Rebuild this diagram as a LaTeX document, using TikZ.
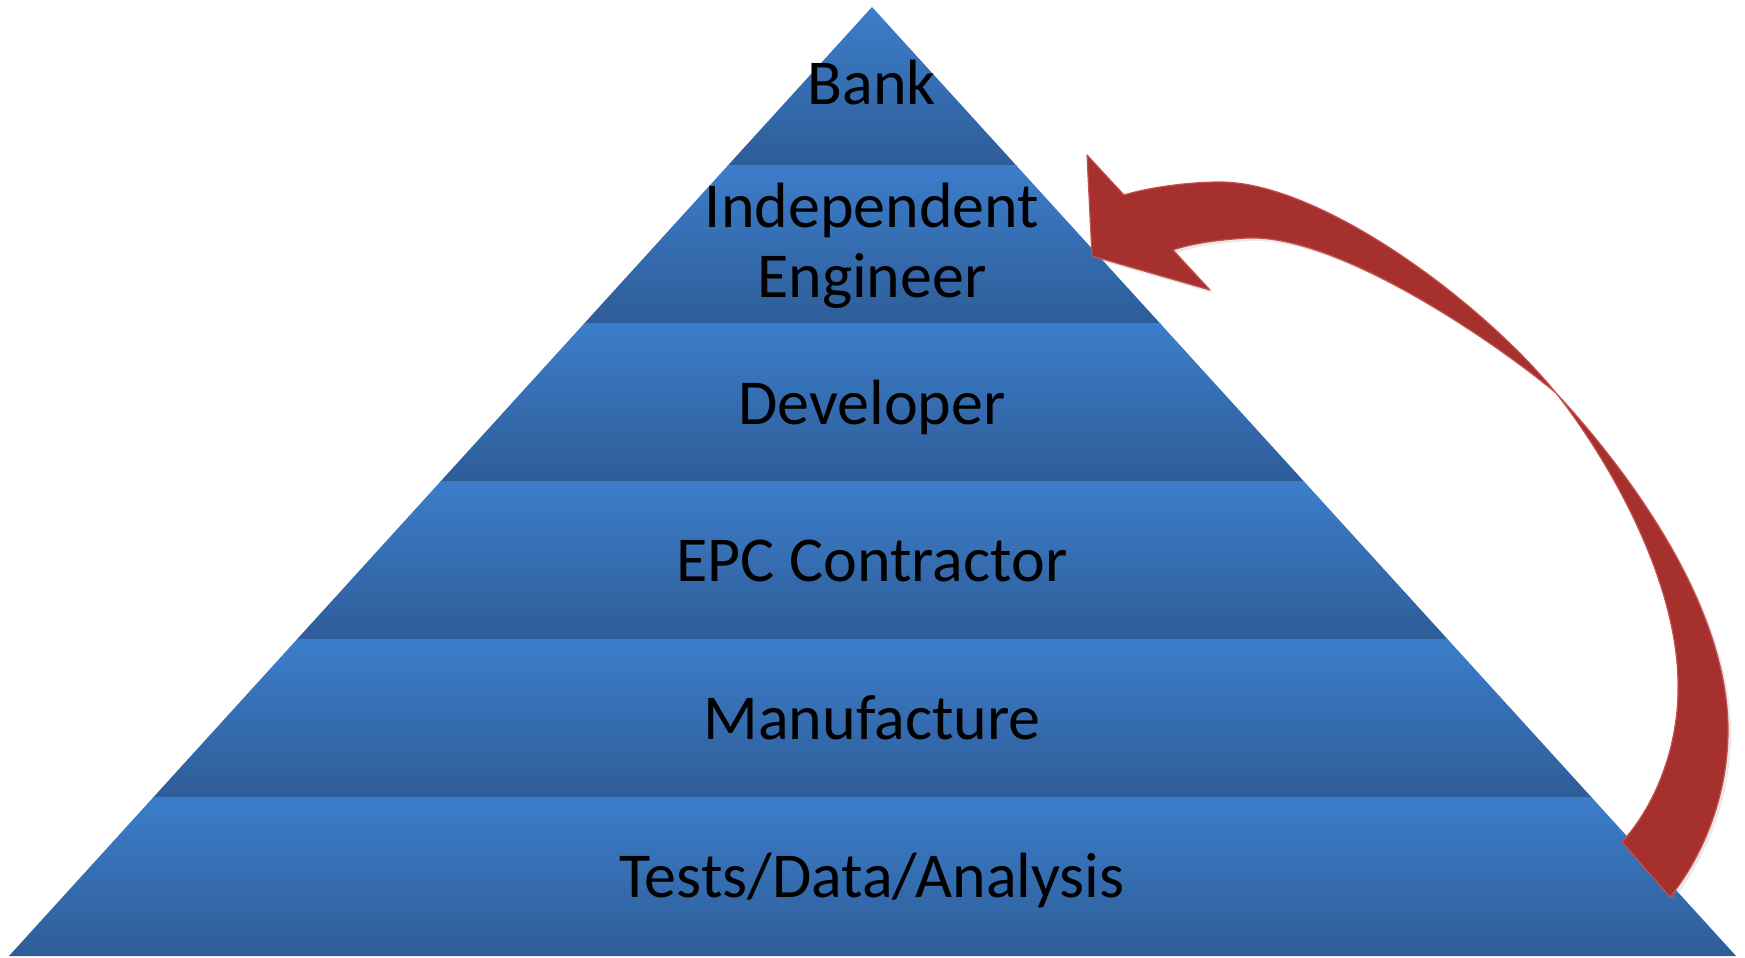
\documentclass[tikz,border=0pt]{standalone}
\usepackage{fontspec}
\setmainfont{Carlito}
\usetikzlibrary{shadows}
\definecolor{bandtop}{HTML}{3C7DCA}
\definecolor{bandbot}{HTML}{2E5D98}
\definecolor{arrowred}{HTML}{A5302E}
\definecolor{arrowedge}{HTML}{C4504D}
\tikzset{
  lbl/.style={font=\fontsize{32}{35}\selectfont, text=black, inner sep=0pt, align=center},
  bandshade/.style={top color=bandtop, bottom color=bandbot},
  redarrow/.style={fill=arrowred, draw=arrowedge, line width=0.6pt, line join=round,
    drop shadow={opacity=0.18, shadow xshift=1.5pt, shadow yshift=-1.5pt}}
}
\begin{document}
\begin{tikzpicture}[x=0.5pt,y=-0.5pt]
\useasboundingbox (0,0) rectangle (1745,958);
% pyramid bands
\begin{scope}
  \clip (872,7) -- (1736,956) -- (9,956) -- cycle;
  \foreach \t in {7,165.2,323.3,481.5,639.7,797.8} {
    \shade[bandshade] (0,\t) rectangle (1745,\t+158.2);
  }
\end{scope}
% labels
\node[lbl, anchor=base] (bank) at (872,104) {Bank};
\node[lbl, anchor=base] (ie) at (872,297) {Independent\\Engineer};
\node[lbl, anchor=base] (dev) at (872,424) {Developer};
\node[lbl, anchor=base] (epc) at (872,581) {EPC Contractor};
\node[lbl, anchor=base] (man) at (872,739) {Manufacture};
\node[lbl, anchor=base] (tda) at (872,897) {Tests/Data/Analysis};
% curved block arrow (from Tests/Data/Analysis up to Independent Engineer)
\coordinate (headtop) at (1087,155);
\coordinate (notchtop) at (1124,195);
\coordinate (cross) at (1556,393);
\coordinate (tailout) at (1670,897);
\coordinate (tailin) at (1622,842);
\coordinate (notchbot) at (1173,250);
\coordinate (headbot) at (1210,290);
\coordinate (headtip) at (1092,256);
\path[redarrow] (headtop) -- (notchtop)
  .. controls (1150,187) and (1190,182) .. (1220,182)
  .. controls (1320,182) and (1480,300) .. (cross)
  .. controls (1620,462) and (1728,600) .. (1728,730)
  .. controls (1728,800) and (1700,860) .. (tailout)
  -- (tailin)
  .. controls (1660,800) and (1678,740) .. (1678,690)
  .. controls (1680,580) and (1605,455) .. (cross)
  .. controls (1500,346) and (1340,234) .. (1247,238)
  .. controls (1215,240) and (1190,244) .. (notchbot)
  -- (headbot) -- (headtip) -- cycle;
\end{tikzpicture}
\end{document}
